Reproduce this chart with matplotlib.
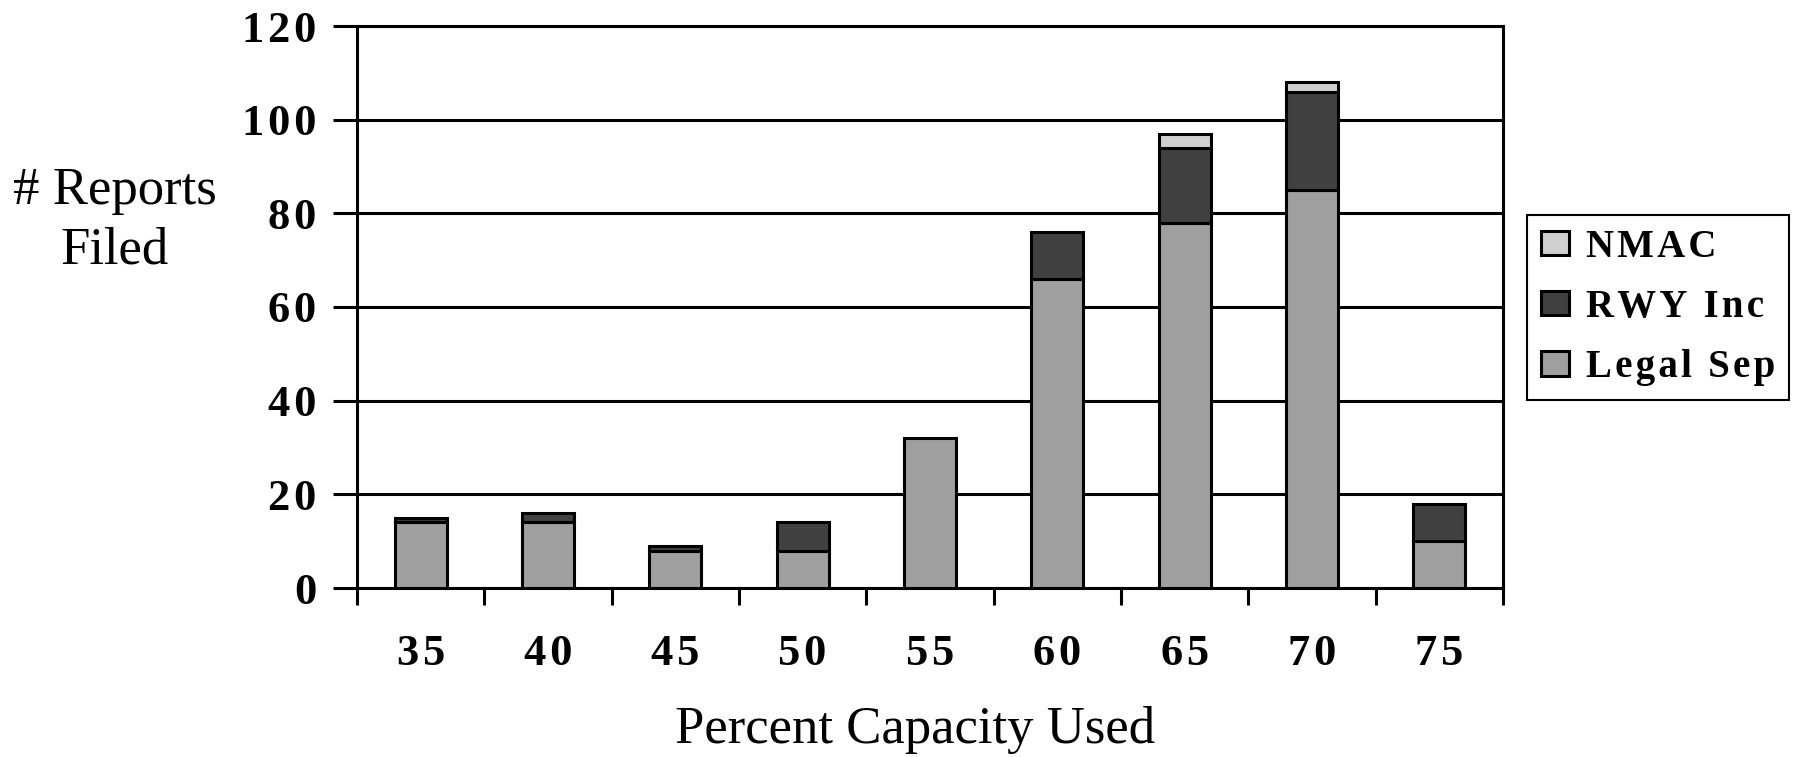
import numpy as np
import matplotlib
matplotlib.use("Agg")
import matplotlib.pyplot as plt

# data
capacity = ["35", "40", "45", "50", "55", "60", "65", "70", "75"]
legal_sep = [14, 14, 8, 8, 32, 66, 78, 85, 10]
rwy_inc = [1, 2, 1, 6, 0, 10, 16, 21, 8]
nmac = [0, 0, 0, 0, 0, 0, 3, 2, 0]
y_ticks = [0, 20, 40, 60, 80, 100, 120]

C_LEGAL = "#9f9f9f"
C_RWY = "#404040"
C_NMAC = "#d0d0d0"
LW = 2.2
HAIR = "\u200a"


def spaced(s):
    # the original uses a little extra letter spacing on the bold labels
    return HAIR.join(s)


plt.rcParams["font.family"] = ["Liberation Serif", "DejaVu Serif"]

fig = plt.figure(figsize=(18.10, 7.57), dpi=100)
ax = fig.add_axes([357 / 1810, 1 - 588 / 757, (1503 - 357) / 1810, (588 - 26) / 757])

x = np.arange(len(capacity))
legal = np.array(legal_sep)
rwy = np.array(rwy_inc)
nm = np.array(nmac)
w = 0.41

b1 = ax.bar(x, legal, w, color=C_LEGAL, edgecolor="black", linewidth=LW,
            label=spaced("Legal Sep"), zorder=3)
rwy_mask = rwy > 0
b2 = ax.bar(x[rwy_mask], rwy[rwy_mask], w, bottom=legal[rwy_mask], color=C_RWY,
            edgecolor="black", linewidth=LW, label=spaced("RWY Inc"), zorder=3)
nm_mask = nm > 0
b3 = ax.bar(x[nm_mask], nm[nm_mask], w, bottom=(legal + rwy)[nm_mask], color=C_NMAC,
            edgecolor="black", linewidth=LW, label=spaced("NMAC"), zorder=3)

ax.set_xlim(-0.5, len(capacity) - 0.5)
ax.set_ylim(0, 120)
ax.set_yticks(y_ticks)
ax.set_yticklabels([spaced(str(v)) for v in y_ticks])
ax.yaxis.grid(True, color="black", linewidth=LW, zorder=1)
ax.set_axisbelow(True)

ax.set_xticks(x)
ax.set_xticklabels([spaced(c) for c in capacity])
ax.set_xticks(np.arange(-0.5, len(capacity), 1.0), minor=True)
ax.tick_params(axis="x", which="major", length=0, pad=33, labelsize=32)
ax.tick_params(axis="x", which="minor", length=12, width=LW, direction="out")
ax.tick_params(axis="y", length=17, width=LW, direction="out", pad=12, labelsize=32)
for lab in ax.get_xticklabels() + ax.get_yticklabels():
    lab.set_fontweight("bold")

for s in ax.spines.values():
    s.set_linewidth(LW)

fig.text(915 / 1810, 1 - 730 / 757, "Percent Capacity Used", fontsize=38,
         ha="center", va="center")
fig.text(115 / 1810, 1 - 221 / 757, "# Reports\nFiled", fontsize=38,
         ha="center", va="center", linespacing=1.3)

leg = ax.legend(handles=[b3, b2, b1], loc="upper left",
                bbox_to_anchor=(1527 / 1810, 1 - 215 / 757),
                bbox_transform=fig.transFigure,
                prop={"weight": "bold", "size": 28}, frameon=True,
                fancybox=False, edgecolor="black", framealpha=1,
                handlelength=0.72, handleheight=0.58, handletextpad=0.45,
                labelspacing=0.6, borderpad=0.35, borderaxespad=0)
leg.get_frame().set_linewidth(1.5)

fig.savefig("out.png", dpi=100)
